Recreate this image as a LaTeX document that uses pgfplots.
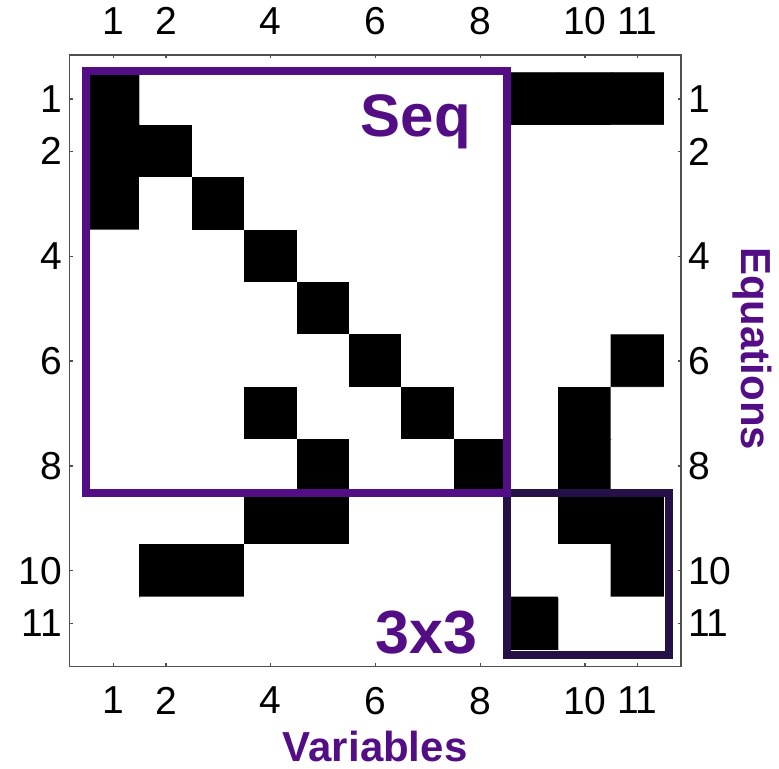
\documentclass[border=0pt]{standalone}
\usepackage{fontspec}
\setmainfont{Liberation Sans}
\usepackage{pgfplots}
\pgfplotsset{compat=1.18}
\definecolor{seqc}{RGB}{84,14,133}
\definecolor{dkc}{RGB}{38,16,72}
\definecolor{framec}{RGB}{80,80,80}
\begin{document}
\begin{tikzpicture}
\useasboundingbox (-34.65pt,-51pt) rectangle (355pt,333.5pt);
\pgfplotsset{
  common/.style={
    at={(0,0)}, anchor=south west,
    scale only axis, width=306pt, height=306pt,
    xmin=0.152, xmax=11.835, ymin=0.161, ymax=11.83, y dir=reverse,
    xtick={1,2,4,6,8,10,11}, ytick={1,2,4,6,8,10,11},
    xticklabels={1,2,4,6,8,10,11}, yticklabels={1,2,4,6,8,10,11},
    tick label style={font=\fontsize{19.5}{19.5}\selectfont},
    xticklabel style={inner ysep=10pt},
    tick align=inside, major tick length=1.75pt,
  }
}
\begin{axis}[common,
  axis line style={framec, line width=0.6pt},
  tick style={framec, line width=0.6pt},
  xticklabel pos=right, yticklabel pos=left,
  colormap={bw}{color(0)=(white) color(1)=(black)},
  point meta min=0, point meta max=1,
  clip=false,
  xlabel={Variables},
  xlabel style={at={(axis description cs:0.5,0)}, anchor=base, yshift=-47.5pt,
    font=\fontsize{21}{21}\selectfont\bfseries, text=seqc},
]
\addplot[matrix plot*, mesh/cols=11, point meta=explicit] coordinates {
(1,1)[1] (2,1)[0] (3,1)[0] (4,1)[0] (5,1)[0] (6,1)[0] (7,1)[0] (8,1)[0] (9,1)[1] (10,1)[1] (11,1)[1]
(1,2)[1] (2,2)[1] (3,2)[0] (4,2)[0] (5,2)[0] (6,2)[0] (7,2)[0] (8,2)[0] (9,2)[0] (10,2)[0] (11,2)[0]
(1,3)[1] (2,3)[0] (3,3)[1] (4,3)[0] (5,3)[0] (6,3)[0] (7,3)[0] (8,3)[0] (9,3)[0] (10,3)[0] (11,3)[0]
(1,4)[0] (2,4)[0] (3,4)[0] (4,4)[1] (5,4)[0] (6,4)[0] (7,4)[0] (8,4)[0] (9,4)[0] (10,4)[0] (11,4)[0]
(1,5)[0] (2,5)[0] (3,5)[0] (4,5)[0] (5,5)[1] (6,5)[0] (7,5)[0] (8,5)[0] (9,5)[0] (10,5)[0] (11,5)[0]
(1,6)[0] (2,6)[0] (3,6)[0] (4,6)[0] (5,6)[0] (6,6)[1] (7,6)[0] (8,6)[0] (9,6)[0] (10,6)[0] (11,6)[1]
(1,7)[0] (2,7)[0] (3,7)[0] (4,7)[1] (5,7)[0] (6,7)[0] (7,7)[1] (8,7)[0] (9,7)[0] (10,7)[1] (11,7)[0]
(1,8)[0] (2,8)[0] (3,8)[0] (4,8)[0] (5,8)[1] (6,8)[0] (7,8)[0] (8,8)[1] (9,8)[0] (10,8)[1] (11,8)[0]
(1,9)[0] (2,9)[0] (3,9)[0] (4,9)[1] (5,9)[1] (6,9)[0] (7,9)[0] (8,9)[0] (9,9)[0] (10,9)[1] (11,9)[1]
(1,10)[0] (2,10)[1] (3,10)[1] (4,10)[0] (5,10)[0] (6,10)[0] (7,10)[0] (8,10)[0] (9,10)[0] (10,10)[0] (11,10)[1]
(1,11)[0] (2,11)[0] (3,11)[0] (4,11)[0] (5,11)[0] (6,11)[0] (7,11)[0] (8,11)[0] (9,11)[1] (10,11)[0] (11,11)[0]
};
\draw[dkc, line width=4pt] (axis cs:8.52,8.52) rectangle (axis cs:11.6,11.6);
\draw[seqc, line width=4pt] (axis cs:0.47,0.47) rectangle (axis cs:8.52,8.52);
\node[anchor=base, text=seqc, font=\fontsize{30}{30}\selectfont\bfseries] at (axis cs:6.77,1.72) {Seq};
\node[anchor=base, text=seqc, font=\fontsize{30.5}{30.5}\selectfont\bfseries] at (axis cs:6.97,11.57) {3x3};
\node[xshift=30.3pt, anchor=base, rotate=-90, text=seqc, font=\fontsize{21}{21}\selectfont\bfseries] at (axis description cs:1,0.52) {Equations};
\end{axis}
\begin{axis}[common,
  axis line style={draw=none}, tick style={draw=none},
  xticklabel pos=left, yticklabel pos=right,
]
\addplot[draw=none] coordinates {(1,1)};
\end{axis}
\end{tikzpicture}
\end{document}
